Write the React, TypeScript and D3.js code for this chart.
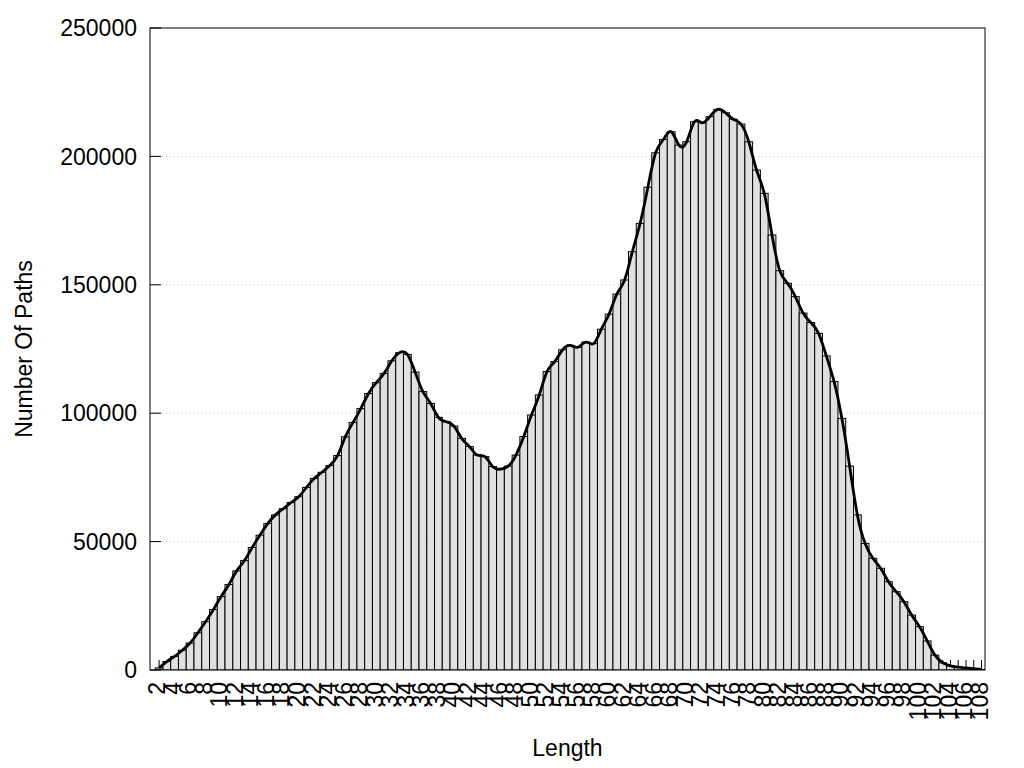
import React, { useEffect } from "react";
import * as d3 from "d3";

const lengths = [
  2, 3, 4, 5, 6, 7, 8, 9, 10, 11, 12, 13, 14, 15, 16, 17, 18, 19, 20, 21,
  22, 23, 24, 25, 26, 27, 28, 29, 30, 31, 32, 33, 34, 35, 36, 37, 38, 39, 40, 41,
  42, 43, 44, 45, 46, 47, 48, 49, 50, 51, 52, 53, 54, 55, 56, 57, 58, 59, 60, 61,
  62, 63, 64, 65, 66, 67, 68, 69, 70, 71, 72, 73, 74, 75, 76, 77, 78, 79, 80, 81,
  82, 83, 84, 85, 86, 87, 88, 89, 90, 91, 92, 93, 94, 95, 96, 97, 98, 99, 100, 101,
  102, 103, 104, 105, 106, 107, 108,
];

const pathCounts = [
  800, 3300, 5300, 7700, 10500, 14500, 18800, 23500, 28600, 33300,
  38600, 42600, 47700, 52500, 57000, 60400, 62800, 65200, 67500, 71100,
  74600, 77000, 79600, 83500, 90800, 96400, 101800, 107700, 111900, 115500,
  120400, 123600, 122900, 116000, 108400, 103800, 98400, 96700, 95000, 90200,
  87000, 83700, 83100, 79200, 78200, 79400, 83700, 90900, 99300, 107100,
  116200, 120100, 124700, 126400, 125700, 127700, 127100, 132700, 138600, 146400,
  151900, 162900, 173900, 188000, 201400, 206600, 209600, 204400, 205700, 213500,
  213100, 215500, 218300, 217000, 214500, 212600, 205700, 194700, 185600, 169400,
  155500, 150600, 145400, 139000, 135300, 131100, 122300, 112300, 98000, 79400,
  60400, 49300, 43500, 39600, 34400, 30500, 26600, 21400, 16900, 11300,
  5800, 2800, 1600, 1100, 800, 500, 200,
];

const xTickLabels = [
  2, 4, 6, 8, 10, 12, 14, 16, 18, 20, 22, 24, 26, 28, 30, 32, 34, 36, 38, 40,
  42, 44, 46, 48, 50, 52, 54, 56, 58, 60, 62, 64, 66, 68, 70, 72, 74, 76, 78, 80,
  82, 84, 86, 88, 90, 92, 94, 96, 98, 100, 102, 104, 106, 108,
];

const yTicks = [0, 50000, 100000, 150000, 200000, 250000];

const W = 1024;
const H = 768;
const LEFT = 150;
const RIGHT = 985;
const TOP = 28;
const BOTTOM = 670;
const FONT = "'Liberation Sans', Arial, sans-serif";
const FS = 23;

export default function App() {
  useEffect(() => {
    document.body.style.margin = "0";
  }, []);

  const x = d3.scaleLinear().domain([0.83, 108.45]).range([LEFT, RIGHT]);
  const y = d3.scaleLinear().domain([0, 250000]).range([BOTTOM, TOP]);

  const line = d3
    .line<number>()
    .x((_, i) => x(lengths[i]))
    .y((d) => y(d))
    .curve(d3.curveNatural);

  return (
    <svg width={W} height={H} style={{ display: "block", background: "#fff" }}>
      <defs>
        <clipPath id="plotClip">
          <rect x={LEFT} y={TOP} width={RIGHT - LEFT} height={BOTTOM - TOP} />
        </clipPath>
      </defs>
      {yTicks
        .filter((t) => t > 0 && t < 250000)
        .map((t) => (
          <line
            key={"g" + t}
            x1={LEFT}
            x2={RIGHT}
            y1={y(t)}
            y2={y(t)}
            stroke="#c0c0c0"
            strokeWidth={1}
            strokeDasharray="1,3"
          />
        ))}
      {lengths.map((c) => (
        <line
          key={"xt" + c}
          x1={x(c)}
          x2={x(c)}
          y1={BOTTOM}
          y2={BOTTOM - 10}
          stroke="#000"
          strokeWidth={1}
        />
      ))}
      <g clipPath="url(#plotClip)">
        {pathCounts.map((v, i) => {
          const c = lengths[i];
          const x0 = x(c - 0.5);
          const x1 = x(c + 0.5);
          return (
            <rect
              key={"b" + c}
              x={x0}
              y={y(v)}
              width={x1 - x0}
              height={BOTTOM - y(v)}
              fill="#e0e0e0"
              stroke="#000"
              strokeWidth={1}
            />
          );
        })}
        <path
          d={line(pathCounts) || ""}
          fill="none"
          stroke="#000"
          strokeWidth={2.8}
          strokeLinejoin="round"
        />
      </g>
      <rect
        x={LEFT}
        y={TOP}
        width={RIGHT - LEFT}
        height={BOTTOM - TOP}
        fill="none"
        stroke="#000"
        strokeWidth={1}
      />
      {yTicks.map((t) => (
        <g key={"yt" + t}>
          <line x1={LEFT} x2={LEFT + 11} y1={y(t)} y2={y(t)} stroke="#000" strokeWidth={1} />
          <text
            x={LEFT - 13}
            y={y(t)}
            dy="0.36em"
            textAnchor="end"
            fontFamily={FONT}
            fontSize={FS}
            fill="#000"
          >
            {t}
          </text>
        </g>
      ))}
      {xTickLabels.map((c) => (
        <text
          key={"xl" + c}
          transform={`translate(${x(c) - 2},${BOTTOM + 12}) rotate(-90)`}
          dy="0.36em"
          textAnchor="end"
          fontFamily={FONT}
          fontSize={FS}
          fill="#000"
        >
          {c}
        </text>
      ))}
      <text
        x={(LEFT + RIGHT) / 2}
        y={756}
        textAnchor="middle"
        fontFamily={FONT}
        fontSize={FS}
        fill="#000"
      >
        Length
      </text>
      <text
        transform={`translate(32,${(TOP + BOTTOM) / 2}) rotate(-90)`}
        textAnchor="middle"
        fontFamily={FONT}
        fontSize={FS}
        fill="#000"
      >
        Number Of Paths
      </text>
    </svg>
  );
}
